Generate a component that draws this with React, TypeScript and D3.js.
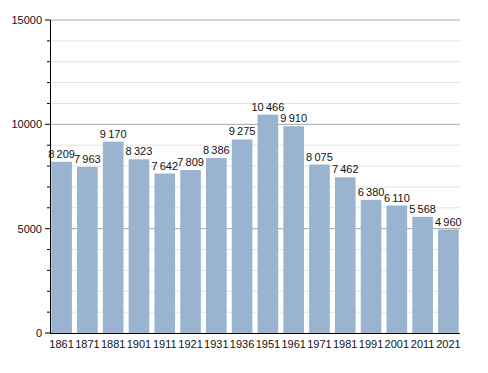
import * as d3 from 'd3';

const years = ['1861', '1871', '1881', '1901', '1911', '1921', '1931', '1936', '1951', '1961', '1971', '1981', '1991', '2001', '2011', '2021'];
const population = [8209, 7963, 9170, 8323, 7642, 7809, 8386, 9275, 10466, 9910, 8075, 7462, 6380, 6110, 5568, 4960];
const majorTicks = [0, 5000, 10000, 15000];

const width = 488;
const height = 373;
const margin = { top: 20, right: 28, bottom: 40, left: 50 };

// thin space between thousands, like the original
const fmt = (v: number) => d3.format(',')(v).replace(/,/g, '\u2009');

export default function App() {
  const x = d3.scaleBand<string>()
    .domain(years)
    .range([margin.left, width - margin.right])
    .paddingInner(0.2)
    .paddingOuter(0.05);

  const y = d3.scaleLinear()
    .domain([0, 15000])
    .range([height - margin.bottom, margin.top]);

  const minorTicks = d3.range(0, 15001, 1000).filter(v => v % 5000 !== 0);
  const font = 'Liberation Sans, Arial, sans-serif';

  return (
    <svg width={width} height={height} style={{ position: 'absolute', left: 0, top: 0 }}>
      <rect width={width} height={height} fill="#fff" />
      {/* minor grid */}
      {minorTicks.map(t => (
        <line key={'m' + t} x1={margin.left} x2={width - margin.right} y1={y(t)} y2={y(t)} stroke="#e3e3e3" />
      ))}
      {/* major grid */}
      {majorTicks.filter(t => t > 0).map(t => (
        <line key={'M' + t} x1={margin.left} x2={width - margin.right} y1={y(t)} y2={y(t)} stroke="#a6a6a6" />
      ))}
      {years.map((yr, i) => (
        <g key={yr}>
          <rect
            x={x(yr)}
            y={y(population[i])}
            width={x.bandwidth()}
            height={y(0) - y(population[i])}
            fill="#9ab3cf"
          />
          <text
            x={(x(yr) ?? 0) + x.bandwidth() / 2}
            y={y(population[i]) - 4}
            textAnchor="middle"
            fontSize={11}
            fontFamily={font}
            fill="#111"
          >
            {fmt(population[i])}
          </text>
          <text
            x={(x(yr) ?? 0) + x.bandwidth() / 2}
            y={y(0) + 15}
            textAnchor="middle"
            fontSize={11}
            fontFamily={font}
            fill="#111"
          >
            {yr}
          </text>
        </g>
      ))}
      {/* y axis */}
      <line x1={margin.left + 0.5} x2={margin.left + 0.5} y1={y(15000)} y2={y(0)} stroke="#000" />
      {minorTicks.map(t => (
        <line key={'mt' + t} x1={margin.left - 3} x2={margin.left} y1={y(t)} y2={y(t)} stroke="#000" />
      ))}
      {majorTicks.map(t => (
        <g key={'Mt' + t}>
          <line x1={margin.left - 5} x2={margin.left} y1={y(t)} y2={y(t)} stroke="#000" />
          <text x={margin.left - 8} y={y(t) + 4} textAnchor="end" fontSize={11} fontFamily={font} fill="#111">
            {t}
          </text>
        </g>
      ))}
      {/* x axis */}
      <line x1={margin.left} x2={width - margin.right} y1={y(0) + 0.5} y2={y(0) + 0.5} stroke="#000" />
    </svg>
  );
}
